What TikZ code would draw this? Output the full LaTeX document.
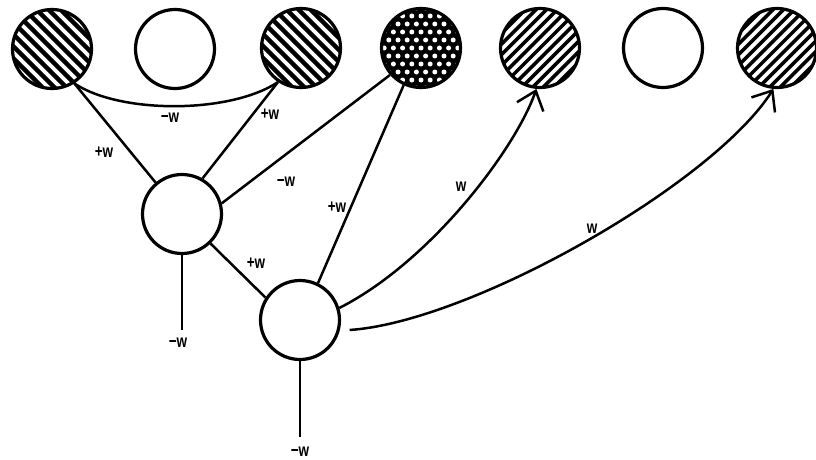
\documentclass[tikz,border=0pt]{standalone}
\usepackage{fontspec}
\setmainfont{Liberation Sans}
\usetikzlibrary{arrows.meta}
\begin{document}
\begin{tikzpicture}[x=1pt,y=-1pt,
  unit/.style={circle,draw=black,line width=3.2pt,minimum size=79pt,inner sep=0pt},
  edge/.style={line width=2.5pt},
  arr/.style={edge,-{Straight Barb[length=17pt,width=28pt,line width=2.5pt]}},
  wlab/.style={font=\bfseries\fontsize{18}{18}\selectfont,inner sep=0pt},
  hatchA/.style={path picture={\foreach \k in {-7,...,7}{\draw[line width=4.5pt] ([shift={(\k*12.0,0)}]path picture bounding box.center) ++(-60,-60) -- ++(120,120);}}},
  hatchB/.style={path picture={\foreach \k in {-8,...,8}{\draw[line width=3.5pt] ([shift={(\k*10.6,0)}]path picture bounding box.center) ++(-60,60) -- ++(120,-120);}}},
  dotted unit/.style={fill=black,path picture={\foreach \i in {-3,...,3}{\foreach \j in {-6,...,6}{\fill[white] ([shift={(\j*9.2,\i*16)}]path picture bounding box.center) circle (2.5); \fill[white] ([shift={(\j*9.2+4.6,\i*16+8)}]path picture bounding box.center) circle (2.5);}}}}
]
\useasboundingbox (0,0) rectangle (816,460);
\node[unit,hatchA] (c1) at (52,49) {};
\node[unit] (c2) at (175,49) {};
\node[unit,hatchA] (c3) at (301,48) {};
\node[unit,dotted unit] (c4) at (421,48) {};
\node[unit,hatchB] (c5) at (540,48) {};
\node[unit] (c6) at (663,48) {};
\node[unit,hatchB] (c7) at (777,48) {};
\node[unit] (h1) at (182,214) {};
\node[unit] (h2) at (300,320) {};
\coordinate (t1) at (182,330);
\coordinate (t2) at (300,437);

\draw[edge] (c1.-57) .. controls (120,114) and (230,114) .. (c3.-124);
\draw[edge] (c1.-57) -- (h1.130);
\draw[edge] (c3.-124) -- (h1.60);
\draw[edge] (c4.-139) -- (h1.15);
\draw[edge] (c4.-115) -- (h2.64);
\draw[edge] (h1.-46) -- (h2.147);
\draw[edge] (h1.south) -- (t1);
\draw[edge] (h2.south) -- (t2);
\draw[arr] (h2.17) .. controls (430,262) and (515,150) .. (c5.-95);
\draw[arr,shorten <=10pt] (h2.-15) .. controls (470,322) and (712,185) .. (c7.-95);

\node[wlab] (l1) at (104,152) {\scalebox{0.75}[1]{+w}};
\node[wlab] (l2) at (170,118) {\scalebox{0.75}[1]{−w}};
\node[wlab] (l3) at (270,114) {\scalebox{0.75}[1]{+w}};
\node[wlab] (l4) at (286,182) {\scalebox{0.75}[1]{−w}};
\node[wlab] (l5) at (337,207) {\scalebox{0.75}[1]{+w}};
\node[wlab] (l6) at (256,263) {\scalebox{0.75}[1]{+w}};
\node[wlab] (l7) at (178,343) {\scalebox{0.75}[1]{−w}};
\node[wlab] (l8) at (300,452) {\scalebox{0.75}[1]{−w}};
\node[wlab] (l9) at (461,187) {\scalebox{0.75}[1]{w}};
\node[wlab] (l10) at (592,229) {\scalebox{0.75}[1]{w}};
\end{tikzpicture}
\end{document}
